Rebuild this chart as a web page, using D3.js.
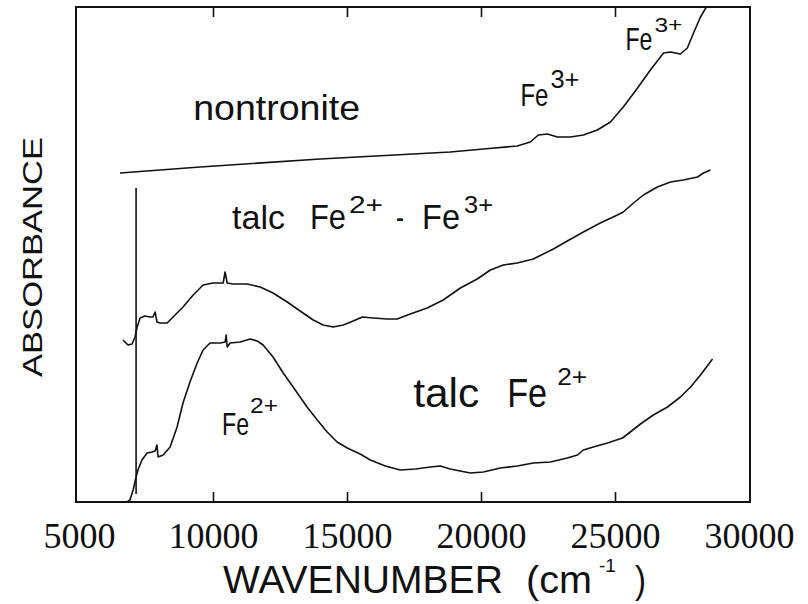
<!DOCTYPE html>
<html>
<head>
<meta charset="utf-8">
<script src="https://cdn.jsdelivr.net/npm/d3@7"></script>
<style>
  body { margin: 0; background: #fff; overflow: hidden; }
  svg { display: block; }
  .label { font-family: "Liberation Sans", Arial, sans-serif; fill: #111; }
  .curve { fill: none; stroke: #111; stroke-width: 1.6; stroke-linejoin: round; }
  .frame { stroke: #111; stroke-width: 2; }
</style>
</head>
<body>
<svg id="chart"></svg>
<script>
// Wavenumber (cm-1) and absorbance (arbitrary units, curves offset)
const nontroniteWn  = [6530, 9520, 14000, 18850, 20090, 21350, 21840, 22140, 22480, 22850, 23330, 23820, 24340,
                       24830, 25310, 25840, 26320, 26810, 27070, 27440, 27700, 27930, 28190, 28410];
const nontroniteAbs = [3.29, 3.35, 3.43, 3.50, 3.53, 3.56, 3.60, 3.67, 3.68, 3.65, 3.65, 3.67, 3.72,
                       3.80, 3.95, 4.14, 4.32, 4.49, 4.50, 4.48, 4.54, 4.69, 4.85, 4.95];

const talcMixWn  = [6640, 6830, 6980, 7090, 7170, 7280, 7460, 7650, 7760, 7840, 7910, 8020, 8290, 8510, 8880,
                    9260, 9630, 10000, 10380, 10450, 10530, 10750, 11270, 11760, 12240, 12770, 13250, 13740,
                    14110, 14480, 14860, 15230, 15570, 15980, 16500, 16870, 17360, 17990, 18590, 19230, 19860,
                    20350, 20830, 21350, 21950, 22700, 23220, 23820, 24450, 25090, 25310, 25690, 26060, 26580,
                    27070, 27550, 28080, 28300, 28560];
const talcMixAbs = [1.62, 1.57, 1.58, 1.65, 1.75, 1.84, 1.86, 1.85, 1.85, 1.90, 1.80, 1.79, 1.79, 1.85, 1.95,
                    2.07, 2.17, 2.19, 2.19, 2.30, 2.19, 2.18, 2.18, 2.15, 2.09, 2.00, 1.91, 1.82,
                    1.77, 1.75, 1.77, 1.81, 1.85, 1.84, 1.83, 1.83, 1.88, 1.94, 2.02, 2.14, 2.23,
                    2.32, 2.37, 2.39, 2.43, 2.53, 2.61, 2.70, 2.79, 2.87, 2.90, 2.99, 3.07, 3.15,
                    3.20, 3.22, 3.25, 3.29, 3.32];

const talcFe2Wn  = [6640, 6790, 6900, 7020, 7130, 7200, 7350, 7540, 7730, 7840, 7910, 7950, 8140, 8400, 8660,
                    8880, 9140, 9410, 9630, 9890, 10270, 10450, 10490, 10530, 10640, 11010, 11390, 11650, 11870,
                    12240, 12620, 12990, 13250, 13510, 13890, 14260, 14630, 15010, 15490, 15870, 16430, 16990,
                    17550, 18110, 18480, 18850, 19600, 20090, 20720, 21350, 21950, 22590, 23220, 23600, 23820,
                    24190, 24720, 25280, 25570, 25950, 26430, 26960, 27440, 27820, 28190, 28640];
const talcFe2Abs = [0.00, 0.00, 0.02, 0.12, 0.25, 0.32, 0.42, 0.49, 0.50, 0.51, 0.57, 0.45, 0.47, 0.55, 0.75,
                    0.99, 1.20, 1.39, 1.52, 1.59, 1.59, 1.60, 1.67, 1.55, 1.59, 1.60, 1.63, 1.61, 1.57,
                    1.45, 1.29, 1.15, 1.05, 0.95, 0.82, 0.70, 0.60, 0.54, 0.48, 0.42, 0.36, 0.32,
                    0.33, 0.35, 0.36, 0.33, 0.29, 0.30, 0.34, 0.36, 0.39, 0.40, 0.44, 0.47, 0.52,
                    0.55, 0.59, 0.64, 0.70, 0.78, 0.87, 0.95, 1.05, 1.15, 1.27, 1.43];

// detector change step, drawn as a vertical stroke
const stepWn  = [7130, 7130];
const stepAbs = [0.08, 3.14];

const xTickLabels = [5000, 10000, 15000, 20000, 25000, 30000];
const xInnerTicks = [10000, 15000, 20000, 25000];

// draws a text and stretches it sideways to the given width
function fitText(parent, str, x, y, size, width, rotate) {
    const t = parent.append('text')
        .attr('class', 'label')
        .attr('font-size', size)
        .text(str);
    const natural = t.node().getComputedTextLength();
    const sx = width / natural;
    if (rotate) {
        t.attr('text-anchor', 'middle')
            .attr('transform', `translate(${x},${y}) rotate(-90) scale(${sx},1)`);
    } else {
        t.attr('transform', `translate(${x},${y}) scale(${sx},1)`);
    }
    return t;
}

class SpectraChart {
    constructor(_config) {
        this.config = {
            parentElement: _config.parentElement,
            width: _config.width,
            height: _config.height,
            margin: _config.margin
        };
        this.series = [
            {wn: nontroniteWn, abs: nontroniteAbs},
            {wn: talcMixWn, abs: talcMixAbs},
            {wn: talcFe2Wn, abs: talcFe2Abs},
            {wn: stepWn, abs: stepAbs, width: 2.2}
        ];
        this.initVis();
    }

    initVis() {
        let vis = this;

        vis.width = vis.config.width - vis.config.margin.left - vis.config.margin.right;
        vis.height = vis.config.height - vis.config.margin.top - vis.config.margin.bottom;

        vis.xScale = d3.scaleLinear()
            .domain([5000, 30000])
            .range([3, vis.width - 1]);

        vis.yScale = d3.scaleLinear()
            .domain([0, 4.95])
            .range([vis.height, 0]);

        vis.svg = d3.select(vis.config.parentElement)
            .attr('width', vis.config.width)
            .attr('height', vis.config.height);

        vis.chart = vis.svg.append('g')
            .attr('transform', `translate(${vis.config.margin.left},${vis.config.margin.top})`);

        vis.renderVis();
    }

    renderVis() {
        let vis = this;

        vis.line = d3.line()
            .x(d => vis.xScale(d[0]))
            .y(d => vis.yScale(d[1]));

        // frame, drawn side by side
        const w = vis.width, h = vis.height;
        vis.chart.selectAll('.frame')
            .data([[0, 0, w, 0], [w, 0, w, h], [0, h, w, h], [0, 0, 0, h]])
            .join('line')
            .attr('class', 'frame')
            .attr('x1', d => d[0]).attr('y1', d => d[1])
            .attr('x2', d => d[2]).attr('y2', d => d[3])
            .attr('stroke-linecap', 'square');

        // inward ticks, bottom and top
        const tickAxisBottom = d3.axisBottom(vis.xScale).tickValues(xInnerTicks).tickSize(-10).tickFormat('');
        const tickAxisTop = d3.axisTop(vis.xScale).tickValues(xInnerTicks).tickSize(-10).tickFormat('');
        const gb = vis.chart.append('g').attr('transform', `translate(0,${h})`).call(tickAxisBottom);
        const gt = vis.chart.append('g').call(tickAxisTop);
        [gb, gt].forEach(g => {
            g.select('.domain').remove();
            g.selectAll('.tick line').attr('stroke', '#111').attr('stroke-width', 1.6);
        });

        // tick labels
        const labelAxis = d3.axisBottom(vis.xScale).tickValues(xTickLabels).tickSize(0).tickFormat(d3.format('d'));
        const labelG = vis.chart.append('g')
            .attr('transform', `translate(0,${h})`)
            .call(labelAxis);
        labelG.select('.domain').remove();
        labelG.selectAll('text')
            .attr('y', 46)
            .attr('dy', 0)
            .attr('font-family', '"Liberation Serif", "Times New Roman", serif')
            .attr('font-size', 36)
            .attr('fill', '#111');

        // spectra
        vis.chart.selectAll('.curve')
            .data(vis.series)
            .join('path')
            .attr('class', 'curve')
            .attr('stroke-width', s => s.width || 1.6)
            .attr('d', s => vis.line(d3.zip(s.wn, s.abs)));

        // annotations: anchor in data units; parts = [text, x offset, width, font size, superscript]
        const annotations = [
            {wn: 9260, abs: 3.82, raise: 0, parts: [['nontronite', 0, 167, 36]]},
            {wn: 10710, abs: 2.73, raise: 16,
             parts: [['talc', 0, 53, 34], ['Fe', 78, 36, 35], ['2+', 117, 34, 24, 1], ['-', 164, 8, 34],
                     ['Fe', 190, 38, 35], ['3+', 232, 29, 24, 1]]},
            {wn: 25390, abs: 4.52, raise: 18, parts: [['Fe', 0, 27, 31], ['3+', 29, 28, 21, 1]]},
            {wn: 21470, abs: 3.96, raise: 18, parts: [['Fe', 0, 28, 32], ['3+', 30, 29, 25, 1]]},
            {wn: 10340, abs: 0.67, raise: 22, parts: [['Fe', 0, 27, 31], ['2+', 28, 28, 22, 1]]},
            {wn: 17470, abs: 0.95, raise: 22, parts: [['talc', 0, 66, 40], ['Fe', 94, 40, 40], ['2+', 144, 30, 24, 1]]}
        ];
        annotations.forEach(a => {
            const x0 = vis.xScale(a.wn), y0 = vis.yScale(a.abs);
            a.parts.forEach(p => {
                fitText(vis.chart, p[0], x0 + p[1], p[4] ? y0 - a.raise : y0, p[3], p[2]);
            });
        });

        // axis titles
        fitText(vis.svg, 'WAVENUMBER', 223, 593, 38.5, 280);
        fitText(vis.svg, '(cm', 526, 593, 38.5, 66);
        fitText(vis.svg, '-1', 599, 572, 18, 17);
        fitText(vis.svg, ')', 635, 593, 38.5, 11);
        fitText(vis.svg, 'ABSORBANCE', 42, 257, 27, 240, true);
    }
}

new SpectraChart({
    parentElement: '#chart',
    width: 808,
    height: 604,
    margin: {top: 7, right: 58, bottom: 102, left: 76}
});
</script>
</body>
</html>
